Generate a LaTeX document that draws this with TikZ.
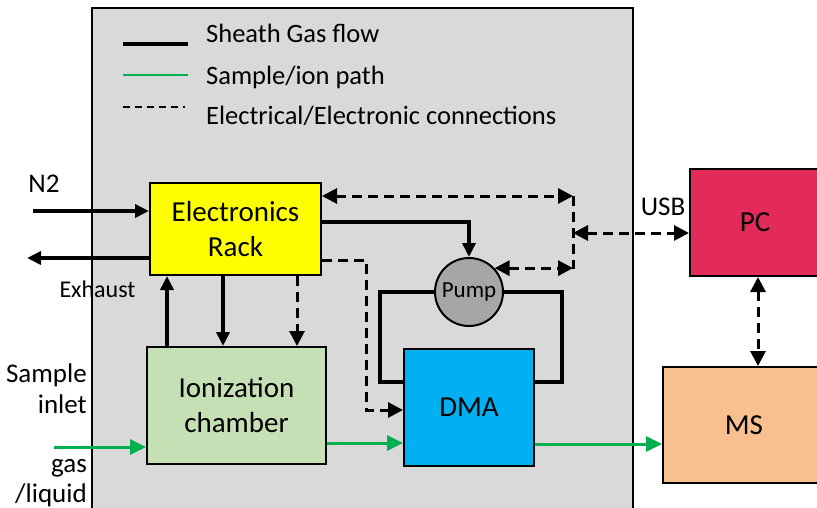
\documentclass[tikz,border=0pt]{standalone}
\usepackage{fontspec}
\setmainfont{Carlito}
\usetikzlibrary{arrows.meta,calc}
\definecolor{bggray}{HTML}{D9D9D9}
\definecolor{rackyellow}{HTML}{FFFF00}
\definecolor{ionGreen}{HTML}{C5E0B4}
\definecolor{dmablue}{HTML}{00B0F0}
\definecolor{pcred}{HTML}{E32B5A}
\definecolor{mspeach}{HTML}{F8C08F}
\definecolor{pumpgray}{HTML}{A6A6A6}
\definecolor{sgreen}{HTML}{00B050}
\begin{document}
\begin{tikzpicture}[x=1pt,y=-1pt,
  box/.style={draw=black,line width=2pt,align=center,inner sep=0pt,font=\fontsize{29}{35}\selectfont},
  lbl/.style={inner sep=0pt,font=\fontsize{27}{32}\selectfont},
  legtxt/.style={inner sep=0pt,anchor=base west,font=\fontsize{26.5}{30}\selectfont},
  gasline/.style={line width=4pt},
  gas/.style={line width=4pt,-{Triangle[length=14pt,width=13pt]}},
  elec/.style={line width=3pt,dash pattern=on 10pt off 6pt},
  eone/.style={elec,-{Triangle[length=15pt,width=15pt]}},
  etwo/.style={elec,{Triangle[length=15pt,width=15pt]}-{Triangle[length=15pt,width=15pt]}},
  sample/.style={line width=3pt,draw=sgreen,-{Triangle[length=16pt,width=15pt,fill=sgreen]},sgreen}
]
\useasboundingbox (0,0) rectangle (817,507);
\clip (0,0) rectangle (817,507);

% instrument housing
\filldraw[fill=bggray,draw=black,line width=2pt] (92,8) rectangle (633,540);

% legend
\coordinate (l1a) at (123,44); \coordinate (l1b) at (188,44);
\coordinate (l2a) at (123,75); \coordinate (l2b) at (188,75);
\coordinate (l3a) at (123,107); \coordinate (l3b) at (185,107);
\draw[line width=4.5pt] (l1a) -- (l1b);
\draw[line width=2pt,sgreen] (l2a) -- (l2b);
\draw[line width=2pt,dash pattern=on 7pt off 5pt] (l3a) -- (l3b);
\node[legtxt] (lt1) at (206,42) {Sheath Gas flow};
\node[legtxt] (lt2) at (206,84) {Sample/ion path};
\node[legtxt] (lt3) at (206,124) {Electrical/Electronic connections};

% blocks
\node[box,fill=rackyellow,minimum width=171pt,minimum height=92pt] (rack) at (235.5,229) {Electronics\\Rack};
\node[box,fill=ionGreen,minimum width=179pt,minimum height=117pt] (ion) at (236.5,405.5) {Ionization\\chamber};
\node[box,fill=dmablue,minimum width=130pt,minimum height=117pt] (dma) at (469,407.5) {DMA};
\node[draw=black,line width=2pt,fill=pumpgray,circle,minimum size=68pt,inner sep=0pt,font=\fontsize{23}{27}\selectfont] (pump) at (469,292) {Pump};
\node[box,fill=pcred,minimum width=130pt,minimum height=107pt] (pc) at (755,222.5) {PC};
\node[box,fill=mspeach,minimum width=162pt,minimum height=116pt] (ms) at (744,425) {MS};

% outside labels
\node[lbl,anchor=base] (n2) at (44,192) {N2};
\node[inner sep=0pt,anchor=base,font=\fontsize{24}{28}\selectfont] (exh) at (97.5,297) {Exhaust};
\node[lbl,anchor=base] (usb) at (663,215) {USB};
\node[lbl,anchor=base east] (s1) at (87,382) {Sample};
\node[lbl,anchor=base east] (s2) at (87,413) {inlet};
\node[lbl,anchor=base east] (s3) at (87,472) {gas};
\node[lbl,anchor=base east] (s4) at (87,502) {/liquid};

% gas flow
\coordinate (n2s) at (33,211);
\coordinate (exs) at (27,258);
\draw[gas] (n2s) -- (n2s -| rack.west);
\draw[gas] (exs -| rack.west) -- (exs);
\draw[gas] (ion.north -| 167,0) -- (rack.south -| 167,0);
\draw[gas] (rack.south -| 223,0) -- (ion.north -| 223,0);
\draw[gas] (rack.east |- 0,222) -| (pump.north);
% pump loop
\coordinate (pl1) at (380,292); \coordinate (pl2) at (380,382);
\coordinate (pr1) at (562,292); \coordinate (pr2) at (562,382);
\draw[gasline,line join=miter] (pump.west) -- (pl1) -- (pl2) -- (dma.west |- pl2);
\draw[gasline,line join=miter] (pump.east) -- (pr1) -- (pr2) -- (dma.east |- pr2);

% electrical
\draw[eone] (rack.south -| 297,0) -- (ion.north -| 297,0);
\coordinate (d1) at (366,260); \coordinate (d2) at (366,410);
\draw[eone] (rack.east |- d1) -- (d1) -- (d2) -- (dma.west |- d2);
\coordinate (hubT) at (573,196);
\coordinate (hubM) at (573,233);
\coordinate (hubB) at (573,269);
\draw[etwo] (rack.east |- hubT) -- (hubT);
\draw[elec] (hubT) -- (hubB);
\draw[etwo] (pump.43) -- (pump.43 -| hubB);
\draw[etwo] (hubM) -- (hubM -| pc.west);
\draw[etwo] (pc.south -| 758,0) -- (ms.north -| 758,0);

% sample path
\coordinate (si) at (54,447);
\draw[sample] (si) -- (si -| ion.west);
\draw[sample] (ion.east |- 0,443) -- (dma.west |- 0,443);
\draw[sample] (dma.east |- 0,444) -- (ms.west |- 0,444);
\end{tikzpicture}
\end{document}
